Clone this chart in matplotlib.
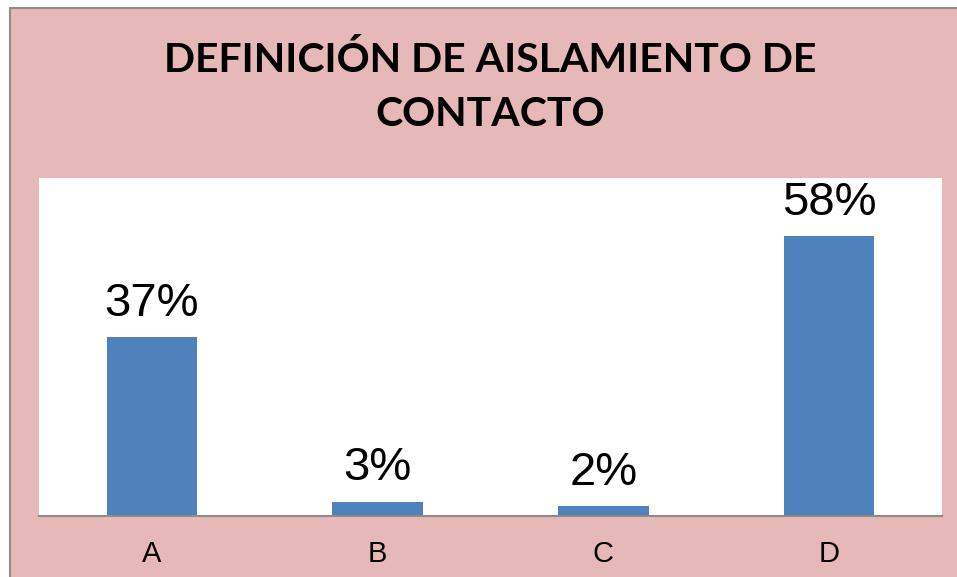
import matplotlib.pyplot as plt
from matplotlib.patches import Rectangle

categories = ['A', 'B', 'C', 'D']
values = [0.37, 0.03, 0.02, 0.58]
labels = ['37%', '3%', '2%', '58%']

fig = plt.figure(figsize=(9.57, 5.77), dpi=100, facecolor='white')

# pink chart area with grey border (cropped on right/bottom)
fig.patches.append(Rectangle((9.5 / 957, -0.05), 1.0, (577 - 7.5) / 577 + 0.05,
                             transform=fig.transFigure, facecolor='#E6B8B7',
                             edgecolor='#8C8C8C', linewidth=1.5, zorder=-5))

ax = fig.add_axes([39 / 957, 61 / 577, 903 / 957, 338 / 577])
ax.set_zorder(1)
ax.set_facecolor('white')
x = range(len(categories))
bars = ax.bar(x, values, width=0.4, color='#4F81BD')
ax.set_xlim(-0.5, 3.5)
ax.set_ylim(0, 0.7)

for i, (v, lab) in enumerate(zip(values, labels)):
    ax.annotate(lab, (i, v), xytext=(0, 8), textcoords='offset points',
                ha='center', va='bottom', fontsize=34, family='Liberation Sans',
                annotation_clip=False)

ax.set_xticks(list(x))
ax.set_xticklabels(categories, fontsize=21, family='Liberation Sans')
ax.tick_params(axis='x', length=0, pad=17)
ax.set_yticks([])
for s in ['top', 'left', 'right']:
    ax.spines[s].set_visible(False)
ax.spines['bottom'].set_color('#8C8C8C')
ax.spines['bottom'].set_linewidth(1.5)

fig.text(490 / 957, 1 - 87 / 577, 'DEFINICIÓN DE AISLAMIENTO DE\nCONTACTO',
         ha='center', va='center', fontsize=29.5, fontweight='bold',
         family='Lato', linespacing=1.57)

fig.savefig('out.png', dpi=100, facecolor=fig.get_facecolor())
